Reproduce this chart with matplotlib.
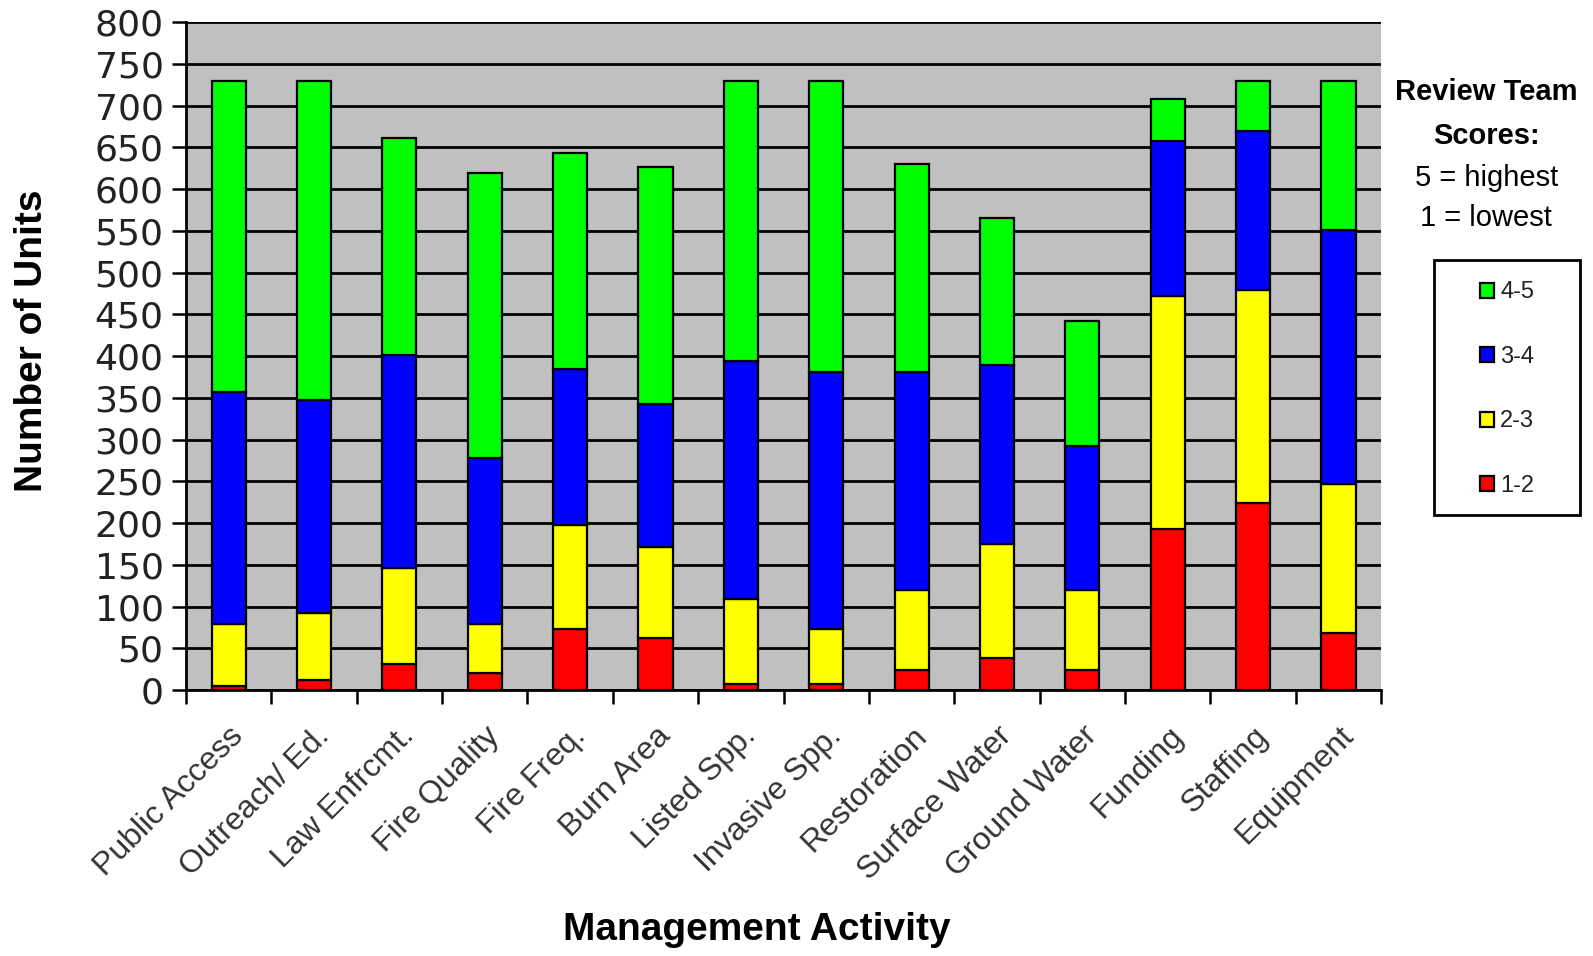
import matplotlib
matplotlib.use("Agg")
import matplotlib.pyplot as plt
from matplotlib.patches import Rectangle
import numpy as np

plt.rcParams['font.family'] = ['Liberation Sans', 'DejaVu Sans']

# Management activities (x categories)
activities = ["Public Access", "Outreach/ Ed.", "Law Enfrcmt.", "Fire Quality", "Fire Freq.",
              "Burn Area", "Listed Spp.", "Invasive Spp.", "Restoration", "Surface Water",
              "Ground Water", "Funding", "Staffing", "Equipment"]

# number of units per score band (stacked bottom to top)
s12 = [5, 12, 31, 21, 73, 62, 7, 8, 24, 38, 24, 193, 224, 69]
s23 = [74, 80, 115, 58, 125, 109, 102, 65, 96, 137, 96, 279, 255, 178]
s34 = [278, 255, 255, 199, 186, 172, 285, 308, 261, 214, 172, 186, 190, 304]
s45 = [372, 382, 260, 341, 259, 283, 335, 348, 249, 176, 150, 50, 60, 178]

bands = ["1-2", "2-3", "3-4", "4-5"]
colors = ["#FF0000", "#FFFF00", "#0000FF", "#00FF00"]

yticks = np.arange(0, 801, 50)

fig = plt.figure(figsize=(15.93, 9.56), dpi=100)
ax = fig.add_axes([0.1167, 0.278, 0.7503, 0.699])
ax.set_facecolor("#C0C0C0")

x = np.arange(len(activities))
bottom = np.zeros(len(activities))
bars = {}
for name, vals, c in zip(bands, [s12, s23, s34, s45], colors):
    bars[name] = ax.bar(x, vals, 0.4, bottom=bottom, color=c, edgecolor="black",
                        linewidth=1.6, zorder=3, label=name)
    bottom += np.array(vals)

ax.set_ylim(0, 800)
ax.set_xlim(-0.5, len(activities) - 0.5)
ax.set_yticks(yticks)
ax.yaxis.grid(True, color="black", linewidth=2.0, zorder=1)
ax.set_axisbelow(True)
ax.tick_params(axis="y", length=10, width=1.8, direction="out", pad=6)
for lab in ax.get_yticklabels():
    lab.set_fontfamily("DejaVu Sans")
    lab.set_fontsize(26)
    lab.set_color("#222222")

ax.set_xticks(x)
ax.set_xticklabels(activities, rotation=45, ha="right", rotation_mode="anchor", fontsize=23,
                   color="#333333")
ax.set_xticks(np.arange(-0.5, len(activities)), minor=True)
ax.tick_params(axis="x", which="major", length=0, pad=22)
ax.tick_params(axis="x", which="minor", length=10, width=1.8, direction="out")

for side in ["left", "bottom"]:
    ax.spines[side].set_linewidth(2.0)
    ax.spines[side].set_color("black")
ax.spines["top"].set_visible(False)
ax.spines["right"].set_visible(False)

fig.text(0.020, 0.644, "Number of Units", rotation=90, ha="center", va="center",
         fontsize=28, fontweight="bold")
fig.text(0.475, 0.027, "Management Activity", ha="center", va="center",
         fontsize=28, fontweight="bold")

fig.text(0.933, 0.904, "Review Team", ha="center", va="center", fontsize=21, fontweight="bold")
fig.text(0.933, 0.858, "Scores:", ha="center", va="center", fontsize=21, fontweight="bold")
fig.text(0.933, 0.814, "5 = highest", ha="center", va="center", fontsize=21)
fig.text(0.933, 0.772, "1 = lowest", ha="center", va="center", fontsize=21)

# legend box
fig.patches.append(Rectangle((0.900, 0.461), 0.092, 0.267, transform=fig.transFigure,
                             facecolor="white", edgecolor="black", linewidth=2.0))

handles = [bars[b] for b in ["4-5", "3-4", "2-3", "1-2"]]
leg = fig.legend(handles, ["4-5", "3-4", "2-3", "1-2"], loc="center",
                 bbox_to_anchor=(0.946, 0.593), frameon=False, fontsize=17,
                 labelspacing=1.8, handlelength=0.6, handleheight=0.6,
                 handletextpad=0.25, borderaxespad=0)
for t in leg.get_texts():
    t.set_color("#222222")

fig.savefig("out.png", dpi=100, facecolor="white")
